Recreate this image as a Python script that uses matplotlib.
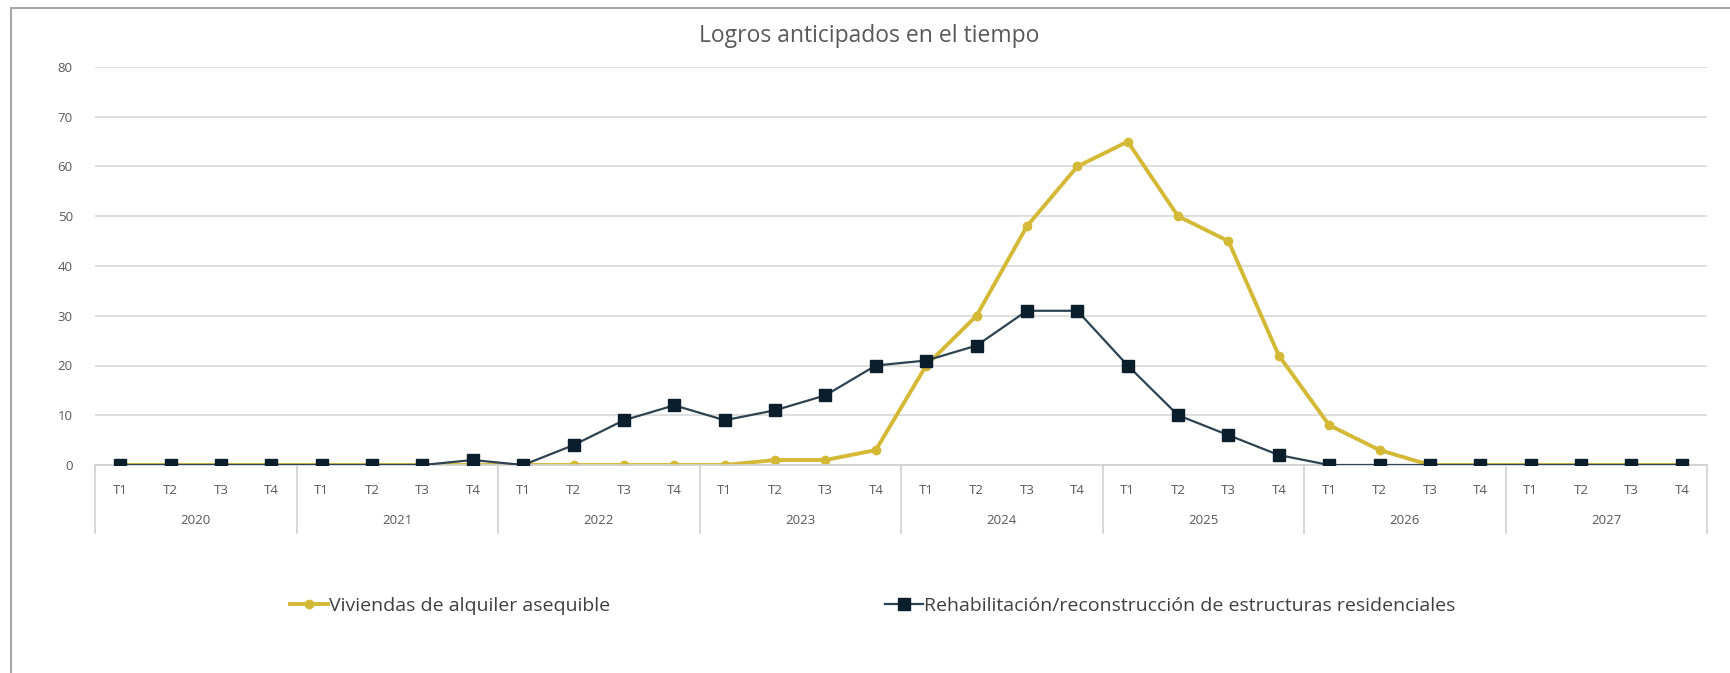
import matplotlib
matplotlib.use("Agg")
import matplotlib.pyplot as plt
from matplotlib.lines import Line2D
from matplotlib.transforms import blended_transform_factory

plt.rcParams['font.family'] = ['Open Sans', 'DejaVu Sans']

years = ["2020", "2021", "2022", "2023", "2024", "2025", "2026", "2027"]
quarters = ["T1", "T2", "T3", "T4"]
viviendas = [0, 0, 0, 0, 0, 0, 0, 0,
             0, 0, 0, 0, 0, 1, 1, 3,
             20, 30, 48, 60, 65, 50, 45, 22,
             8, 3, 0, 0, 0, 0, 0, 0]
rehab = [0, 0, 0, 0, 0, 0, 0, 1,
         0, 4, 9, 12, 9, 11, 14, 20,
         21, 24, 31, 31, 20, 10, 6, 2,
         0, 0, 0, 0, 0, 0, 0, 0]
series_names = ["Viviendas de alquiler asequible",
                "Rehabilitación/reconstrucción de estructuras residenciales"]
title = "Logros anticipados en el tiempo"

W, H = 1730, 673
fig = plt.figure(figsize=(W / 100, H / 100), dpi=100)
fig.patch.set_facecolor("white")

left, right, bottom_px, top_px = 95, 1707, 465, 67
ax = fig.add_axes([left / W, 1 - bottom_px / H, (right - left) / W, (bottom_px - top_px) / H])

n = len(years) * len(quarters)
x = list(range(n))
yellow = "#D4B936"
navy = "#0A1E2C"
navy_line = "#2E4352"

ax.plot(x, viviendas, color=yellow, lw=2.8, marker="o", ms=6,
        mfc=yellow, mec=yellow, zorder=2, label=series_names[0])
ax.plot(x, rehab, color=navy_line, lw=1.6, marker="s", ms=9,
        mfc=navy, mec=navy, zorder=3, label=series_names[1])

ax.set_xlim(-0.5, n - 0.5)
ax.set_ylim(0, 80)
ax.set_yticks(range(0, 81, 10))
ax.yaxis.grid(True, color="#D9D9D9", lw=1.2)
ax.set_axisbelow(True)
for s in ["top", "right", "left"]:
    ax.spines[s].set_visible(False)
ax.spines["bottom"].set_color("#D0D0D0")
ax.spines["bottom"].set_linewidth(1.2)
ax.tick_params(axis="y", length=0, labelsize=9.5, labelcolor="#595959", pad=16)
ax.set_xticks(x)
ax.set_xticklabels(quarters * len(years))
ax.tick_params(axis="x", length=0, labelsize=9.5, labelcolor="#595959", pad=14)

ah = bottom_px - top_px
trans = blended_transform_factory(ax.transData, ax.transAxes)
sep_bottom = -(533 - bottom_px) / ah
for g in range(len(years) + 1):
    xs = g * 4 - 0.5
    ax.plot([xs, xs], [0, sep_bottom], transform=trans, color="#D0D0D0",
            lw=1.2, clip_on=False)
year_y = -(521 - bottom_px) / ah
for g, yr in enumerate(years):
    ax.text(g * 4 + 1.5, year_y, yr, transform=trans, ha="center", va="center",
            fontsize=9.5, color="#595959")

fig.text(869 / W, 1 - 36 / H, title, ha="center", va="center", fontsize=16.5, color="#595959")

# legend
h1 = Line2D([], [], color=yellow, lw=2.8, marker="o", ms=6, mfc=yellow, mec=yellow)
h2 = Line2D([], [], color=navy_line, lw=1.6, marker="s", ms=9, mfc=navy, mec=navy)
fig.legend([h1], [series_names[0]], loc="center left",
           bbox_to_anchor=(272 / W, 1 - 606 / H), frameon=False,
           fontsize=14, labelcolor="#404040", handlelength=2.0, handletextpad=0.05)
fig.legend([h2], [series_names[1]], loc="center left",
           bbox_to_anchor=(867 / W, 1 - 606 / H), frameon=False,
           fontsize=14, labelcolor="#404040", handlelength=2.0, handletextpad=0.05)

# figure border (left and top)
fig.add_artist(Line2D([11 / W, 11 / W], [0, 1 - 8 / H], transform=fig.transFigure,
                      color="#A6A6A6", lw=1.5))
fig.add_artist(Line2D([11 / W, 1], [1 - 8 / H, 1 - 8 / H], transform=fig.transFigure,
                      color="#A6A6A6", lw=1.5))

fig.savefig("out.png", dpi=100, facecolor="white")
